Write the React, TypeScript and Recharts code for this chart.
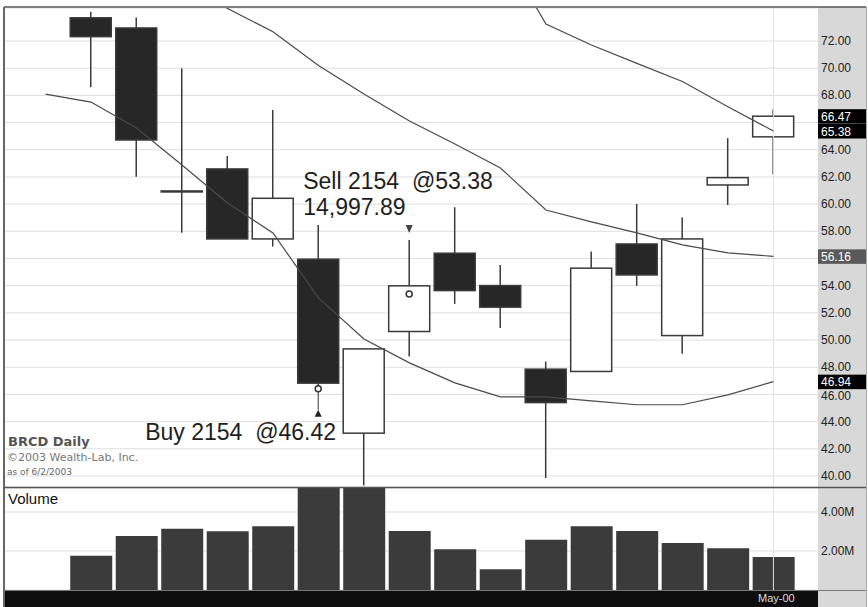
import { ComposedChart, Bar, Line, XAxis, YAxis, CartesianGrid, ReferenceLine } from "recharts"

// slot 0 only carries the lower band, candles are slots 1..16
const sessions = [0, 1, 2, 3, 4, 5, 6, 7, 8, 9, 10, 11, 12, 13, 14, 15, 16]
const opens = [null, 73.71, 72.96, 60.97, 62.59, 57.44, 55.95, 43.15, 50.63, 56.39, 54.01, 47.86, 47.69, 57.07, 50.33, 61.41, 64.95]
const highs = [null, 74.15, 73.74, 69.99, 63.54, 66.93, 58.47, 49.35, 57.37, 59.77, 55.53, 48.42, 56.51, 60.01, 59.01, 64.85, 66.98]
const lows = [null, 68.6, 62.02, 57.9, 57.44, 56.88, 46.3, 39.3, 48.79, 52.66, 50.88, 39.85, 47.69, 53.99, 48.99, 59.94, 62.2]
const closes = [null, 72.32, 64.72, 60.97, 57.44, 60.43, 46.83, 49.35, 53.99, 53.64, 52.42, 45.4, 55.29, 54.79, 57.44, 61.95, 66.47]
const volumes = [null, 1.76e6, 2.77e6, 3.14e6, 3.01e6, 3.27e6, 5.9e6, 6.1e6, 3.03e6, 2.09e6, 1.06e6, 2.58e6, 3.27e6, 3.03e6, 2.41e6, 2.14e6, 1.69e6]

// bollinger bands
const upperBand = [null, null, null, null, null, null, null, null, null, null, 79.0, 73.25, 71.71, 70.36, 69.02, 67.17, 65.38]
const middleBand = [null, null, null, 76.5, 74.4, 72.68, 70.2, 68.1, 66.12, 64.42, 62.66, 59.57, 58.69, 57.88, 57.0, 56.41, 56.16]
const lowerBand = [68.1, 67.51, 65.6, 62.88, 60.09, 57.88, 53.1, 50.08, 48.32, 46.85, 45.82, 45.82, 45.53, 45.24, 45.24, 45.97, 46.94]

const priceTicks = [40, 42, 44, 46, 48, 50, 52, 54, 56, 58, 60, 62, 64, 66, 68, 70, 72]
const volumeTicks = [2e6, 4e6]
const dateTicks = [16]
const dateLabels = ["May-00"]

const tradeDays = [6, 8]
const tradeSides = ["Buy", "Sell"]
const tradeShares = [2154, 2154]
const tradePrices = [46.42, 53.38]
const tradeProfits = [null, 14997.89]

const lastValues = [66.47, 65.38, 56.16, 46.94]

const FONT = "'Liberation Sans', Arial, Helvetica, sans-serif"
const X_DOMAIN = [-0.89, 16.98]
const boxFills = ["#000", "#000", "#5a5a5a", "#000"]
const hiddenLabels = [56, 66]

const rows = sessions.map((k, i) => {
  const t = tradeDays.indexOf(k)
  return {
    k,
    open: opens[i],
    high: highs[i],
    low: lows[i],
    close: closes[i],
    range: highs[i] == null ? null : [lows[i], highs[i]],
    vol: volumes[i],
    upper: upperBand[i],
    middle: middleBand[i],
    lower: lowerBand[i],
    trade: t < 0 ? null : { side: tradeSides[t], shares: tradeShares[t], price: tradePrices[t], profit: tradeProfits[t] },
  }
})

function Candle(props: any) {
  const { x, y, width, height, payload } = props
  if (!payload || payload.open == null) return null
  const top = Math.min(y, y + height)
  const bottom = Math.max(y, y + height)
  const { open, high, low, close, trade } = payload
  const py = (p: number) => top + ((high - p) / (high - low)) * (bottom - top)
  const cx = x + width / 2
  const up = close >= open
  const b1 = py(Math.max(open, close))
  const b2 = py(Math.min(open, close))
  let mark = null
  if (trade) {
    const ty = py(trade.price)
    const label = `${trade.side} ${trade.shares}  @${trade.price.toFixed(2)}`
    if (trade.side === "Buy") {
      mark = (
        <g>
          <line x1={cx} x2={cx} y1={ty + 3} y2={ty + 21} stroke="#333" strokeWidth={1} />
          <path d={`M${cx},${ty + 21} L${cx + 3.5},${ty + 28} L${cx - 3.5},${ty + 28} Z`} fill="#222" />
          <circle cx={cx} cy={ty} r={3} fill="#fff" stroke="#333" strokeWidth={1.5} />
          <text x={cx - 173} y={ty + 51} fontSize={23} fill="#1e1e1e" fontFamily={FONT} style={{ whiteSpace: "pre" }}>{label}</text>
        </g>
      )
    } else {
      mark = (
        <g>
          <path d={`M${cx},${ty - 61} L${cx + 3.5},${ty - 69} L${cx - 3.5},${ty - 69} Z`} fill="#444" />
          <circle cx={cx} cy={ty} r={3} fill="#fff" stroke="#333" strokeWidth={1.5} />
          <text x={cx - 106} y={ty - 105} fontSize={23} fill="#1e1e1e" fontFamily={FONT} style={{ whiteSpace: "pre" }}>{label}</text>
          {trade.profit != null && (
            <text x={cx - 106} y={ty - 79} fontSize={23} fill="#1e1e1e" fontFamily={FONT}>
              {trade.profit.toLocaleString("en-US", { minimumFractionDigits: 2 })}
            </text>
          )}
        </g>
      )
    }
  }
  return (
    <g>
      <line x1={cx} x2={cx} y1={top} y2={bottom} stroke="#3a3a3a" strokeWidth={1.5} />
      <rect x={x} y={b1} width={width} height={Math.max(b2 - b1, 1)} fill={up ? "#fff" : "#272727"} stroke="#3a3a3a" strokeWidth={1.5} />
      {mark}
    </g>
  )
}

function PriceTick(props: any) {
  const { x, y, payload } = props
  const v = payload.value
  if (hiddenLabels.includes(v)) return null
  const nudge = v === 46 ? 2 : 0
  return (
    <text x={x} y={y + nudge} dy={4} fontSize={12} fill="#222" fontFamily={FONT}>
      {v.toFixed(2)}
    </text>
  )
}

function VolumeTick(props: any) {
  const { x, y, payload } = props
  return (
    <text x={x} y={y} dy={4} fontSize={12} fill="#222" fontFamily={FONT}>
      {(payload.value / 1e6).toFixed(2) + "M"}
    </text>
  )
}

function DateTick(props: any) {
  const { x, y, payload } = props
  return (
    <text x={x + 3} y={y + 12} textAnchor="middle" fontSize={11} fill="#ddd" fontFamily={FONT}>
      {dateLabels[dateTicks.indexOf(payload.value)]}
    </text>
  )
}

function valueBox(i: number) {
  return (p: any) => {
    const vb = p.viewBox
    const bx = vb.x + vb.width
    const by = vb.y
    return (
      <g>
        <rect x={bx} y={by - 7} width={48} height={14.5} fill={boxFills[i]} />
        <text x={bx + 3} y={by + 4.5} fontSize={12} fill="#fff" fontFamily={FONT}>
          {lastValues[i].toFixed(2)}
        </text>
      </g>
    )
  }
}

export default function App() {
  return (
    <div style={{ position: "absolute", left: 0, top: 0, width: 868, height: 607, background: "#fff", overflow: "hidden" }}>
      <div style={{ position: "absolute", left: 818, top: 7, width: 48, height: 600, background: "#d8d8d8" }} />
      <div style={{ position: "absolute", left: 4, top: 591, width: 814, height: 16, background: "#0e0e0e" }} />

      <div style={{ position: "absolute", left: 5, top: 8 }}>
        <ComposedChart width={861} height={479} data={rows} margin={{ top: 0, right: 0, bottom: 0, left: 0 }}>
          <CartesianGrid horizontal vertical={false} stroke="#dedede" />
          <XAxis dataKey="k" type="number" domain={X_DOMAIN} allowDataOverflow hide />
          <YAxis
            orientation="right"
            width={48}
            domain={[39.19, 74.43]}
            allowDataOverflow
            ticks={priceTicks}
            interval={0}
            axisLine={false}
            tickLine={false}
            tickSize={0}
            tickMargin={3}
            tick={<PriceTick />}
          />
          <ReferenceLine x={16} stroke="#e2e2e2" />
          <Line dataKey="lower" stroke="#4a4a4a" strokeWidth={1.2} dot={false} isAnimationActive={false} />
          <Line dataKey="middle" stroke="#4a4a4a" strokeWidth={1.2} dot={false} isAnimationActive={false} />
          <Line dataKey="upper" stroke="#4a4a4a" strokeWidth={1.2} dot={false} isAnimationActive={false} />
          <Bar dataKey={(d: any) => d.range} barSize={41} shape={<Candle />} isAnimationActive={false} />
          {lastValues.map((v, i) => (
            <ReferenceLine key={v} y={v} stroke="none" ifOverflow="visible" label={valueBox(i)} />
          ))}
        </ComposedChart>
      </div>

      <div style={{ position: "absolute", left: 5, top: 488 }}>
        <ComposedChart width={861} height={119} data={rows} margin={{ top: 0, right: 0, bottom: 0, left: 0 }}>
          <CartesianGrid horizontal vertical={false} stroke="#dedede" />
          <XAxis
            dataKey="k"
            type="number"
            domain={X_DOMAIN}
            allowDataOverflow
            ticks={dateTicks}
            height={17}
            axisLine={false}
            tickLine={false}
            tickSize={0}
            tickMargin={0}
            tick={<DateTick />}
          />
          <YAxis
            orientation="right"
            width={48}
            domain={[0, 5.23e6]}
            allowDataOverflow
            ticks={volumeTicks}
            interval={0}
            axisLine={false}
            tickLine={false}
            tickSize={0}
            tickMargin={3}
            tick={<VolumeTick />}
          />
          <ReferenceLine x={16} stroke="#e2e2e2" />
          <Bar dataKey="vol" barSize={42} fill="#3b3b3b" isAnimationActive={false} />
        </ComposedChart>
      </div>

      <svg width={868} height={607} style={{ position: "absolute", left: 0, top: 0, pointerEvents: "none" }}>
        <line x1={4} x2={866} y1={7} y2={7} stroke="#555" strokeWidth={1.5} />
        <line x1={4} x2={4} y1={7} y2={607} stroke="#666" strokeWidth={2} />
        <line x1={4} x2={866} y1={487.5} y2={487.5} stroke="#555" strokeWidth={1.5} />
        <line x1={4} x2={866} y1={590.5} y2={590.5} stroke="#777" strokeWidth={1} />
        <line x1={866.5} x2={866.5} y1={7} y2={607} stroke="#aaa" strokeWidth={1} />
        <text x={8} y={446} fontSize={13} fontWeight="bold" fill="#555" fontFamily="'DejaVu Sans', Verdana, sans-serif">BRCD Daily</text>
        <text x={7} y={461} fontSize={11} fill="#777" fontFamily="'DejaVu Sans', Verdana, sans-serif">©2003 Wealth-Lab, Inc.</text>
        <text x={7} y={475} fontSize={9} fill="#666" fontFamily="'DejaVu Sans', Verdana, sans-serif">as of 6/2/2003</text>
        <text x={8} y={504} fontSize={15} fill="#111" fontFamily={FONT}>Volume</text>
      </svg>
    </div>
  )
}
